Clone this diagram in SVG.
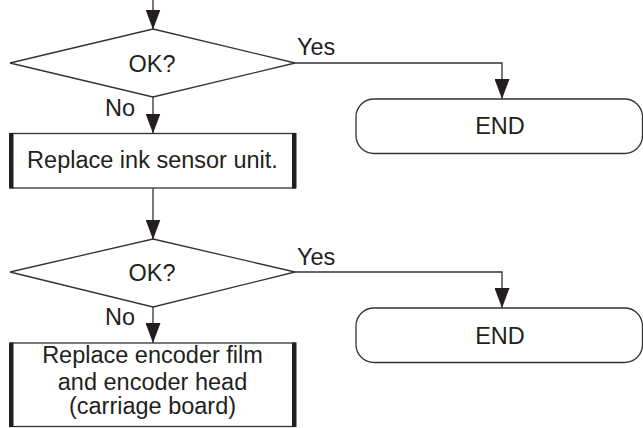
<svg xmlns="http://www.w3.org/2000/svg" width="643" height="428" viewBox="0 0 643 428">
<defs>
<marker id="arr" markerUnits="userSpaceOnUse" markerWidth="20" markerHeight="15" viewBox="0 0 20 15" refX="20" refY="7.5" orient="auto">
<path d="M0,0 L20,7.5 L0,15 Z" fill="#231f20"/>
</marker>
</defs>
<style>
.ln{fill:none;stroke:#333;stroke-width:1.3}
.sh{fill:#fff;stroke:#333;stroke-width:1.3}
.bar{fill:#231f20}
text{font-family:"Liberation Sans",Arial,sans-serif;font-size:23.5px;fill:#231f20}
.c{text-anchor:middle}
</style>
<rect width="643" height="428" fill="#fff"/>
<g id="connectors">
<path class="ln" d="M153,0 V29.5" marker-end="url(#arr)"/>
<path class="ln" d="M153,97 V133.5" marker-end="url(#arr)"/>
<path class="ln" d="M295,63 H502 V99" marker-end="url(#arr)"/>
<path class="ln" d="M153,188 V239.5" marker-end="url(#arr)"/>
<path class="ln" d="M153,307 V343" marker-end="url(#arr)"/>
<path class="ln" d="M295,272 H502 V308" marker-end="url(#arr)"/>
<text x="297" y="55">Yes</text>
<text x="105" y="116">No</text>
<text x="297" y="265">Yes</text>
<text x="105" y="325">No</text>
</g>
<g id="decision1">
<polygon class="sh" points="153,29 295,63 153,97 10,63"/>
<text class="c" x="152" y="71.5">OK?</text>
</g>
<g id="end1">
<rect class="sh" x="356" y="99" width="286.5" height="54.5" rx="18" ry="18"/>
<text class="c" x="500" y="134">END</text>
</g>
<g id="process1">
<rect class="sh" x="11" y="133.5" width="284" height="54.5"/>
<rect class="bar" x="9" y="133" width="4.5" height="55.5"/>
<rect class="bar" x="292" y="133" width="4.5" height="55.5"/>
<text class="c" x="152.5" y="168.3">Replace ink sensor unit.</text>
</g>
<g id="decision2">
<polygon class="sh" points="153,239 295,272 153,307 10,272"/>
<text class="c" x="152" y="281">OK?</text>
</g>
<g id="end2">
<rect class="sh" x="356" y="308" width="286.5" height="54.5" rx="18" ry="18"/>
<text class="c" x="500" y="344">END</text>
</g>
<g id="process2">
<rect class="sh" x="11" y="343" width="284" height="83.5"/>
<rect class="bar" x="9" y="342.5" width="4.5" height="84.5"/>
<rect class="bar" x="292" y="342.5" width="4.5" height="84.5"/>
<text class="c" x="152.5" y="363.3">Replace encoder film</text>
<text class="c" x="152.5" y="390">and encoder head</text>
<text class="c" x="152.5" y="413.5">(carriage board)</text>
</g>
</svg>
